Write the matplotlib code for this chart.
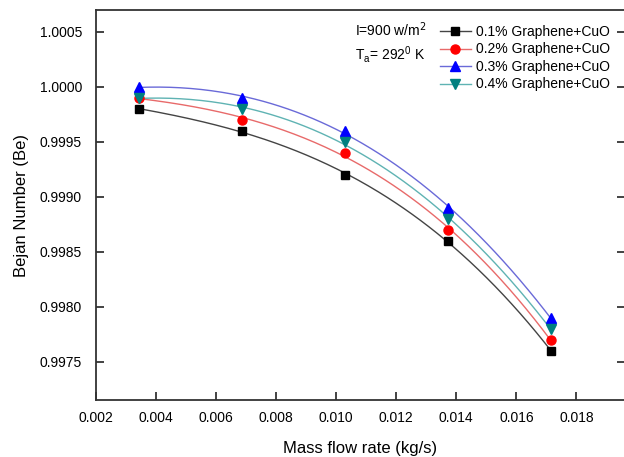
import numpy as np
import matplotlib
matplotlib.use("Agg")
import matplotlib.pyplot as plt

plt.rcParams['font.family'] = ['Liberation Sans', 'DejaVu Sans']

mass_flow = [0.00343, 0.00686, 0.01029, 0.01372, 0.01715]
be_01 = [0.9998, 0.9996, 0.9992, 0.9986, 0.9976]
be_02 = [0.9999, 0.9997, 0.9994, 0.9987, 0.9977]
be_03 = [1.0000, 0.9999, 0.9996, 0.9989, 0.9979]
be_04 = [0.9999, 0.9998, 0.9995, 0.9988, 0.9978]
labels = ['0.1% Graphene+CuO', '0.2% Graphene+CuO', '0.3% Graphene+CuO', '0.4% Graphene+CuO']
xticks = [0.002, 0.004, 0.006, 0.008, 0.010, 0.012, 0.014, 0.016, 0.018]
yticks = [0.9975, 0.9980, 0.9985, 0.9990, 0.9995, 1.0000, 1.0005]

series = [be_01, be_02, be_03, be_04]
marker_colors = ['black', '#ff0000', '#0000ff', '#008080']
line_colors = ['#444444', '#e86a6a', '#6a6ad8', '#5fb3b3']
markers = ['s', 'o', '^', 'v']
msizes = [6, 6.5, 7, 7]

fig = plt.figure(figsize=(6.24, 4.57), dpi=100)
ax = fig.add_axes([96/624, 1 - 400.3/457, (625 - 96)/624, (400.3 - 10)/457])

x = np.array(mass_flow)
xs = np.linspace(x[0], x[-1], 200)
for ys, mc, lc, mk, ms, lab in zip(series, marker_colors, line_colors, markers, msizes, labels):
    coef = np.polyfit(x, np.array(ys), 3)
    ax.plot(xs, np.polyval(coef, xs), color=lc, lw=1.0, zorder=2)
    ax.plot(x, ys, linestyle='none', marker=mk, color=mc, markersize=ms, zorder=3)
    ax.plot([], [], color=lc, lw=1.0, marker=mk, markerfacecolor=mc,
            markeredgecolor=mc, markersize=ms, label=lab)

ax.set_xlim(0.002, 0.01962)
ax.set_ylim(0.99715, 1.0007)
ax.set_xticks(xticks)
ax.set_xticklabels([f'{v:.3f}' for v in xticks])
ax.set_yticks(yticks)
ax.set_yticklabels([f'{v:.4f}' for v in yticks])
ax.tick_params(direction='in', length=6, width=1.2, labelsize=10, color='#222222',
               top=False, right=True)
ax.tick_params(axis='x', pad=7.5)
ax.tick_params(axis='y', pad=10)
for s in ax.spines.values():
    s.set_linewidth(1.3)
    s.set_color('#333333')

ax.set_xlabel('Mass flow rate (kg/s)', fontsize=12, labelpad=12)
ax.set_ylabel('Bejan Number (Be)', fontsize=12, labelpad=8)

ax.legend(loc='upper left', bbox_to_anchor=(440/624, 1 - 25/457), bbox_transform=fig.transFigure,
          frameon=False, fontsize=10, handlelength=2.2, handletextpad=0.4,
          labelspacing=0.25, borderpad=0, borderaxespad=0)

fig.text(355/624, 1 - 30/457, 'I=900 w/m$^2$', fontsize=10, va='center', ha='left')
fig.text(355/624, 1 - 54/457, 'T$_\\mathregular{a}$= 292$^\\mathregular{0}$ K', fontsize=10, va='center', ha='left')

fig.savefig('out.png', dpi=100)
